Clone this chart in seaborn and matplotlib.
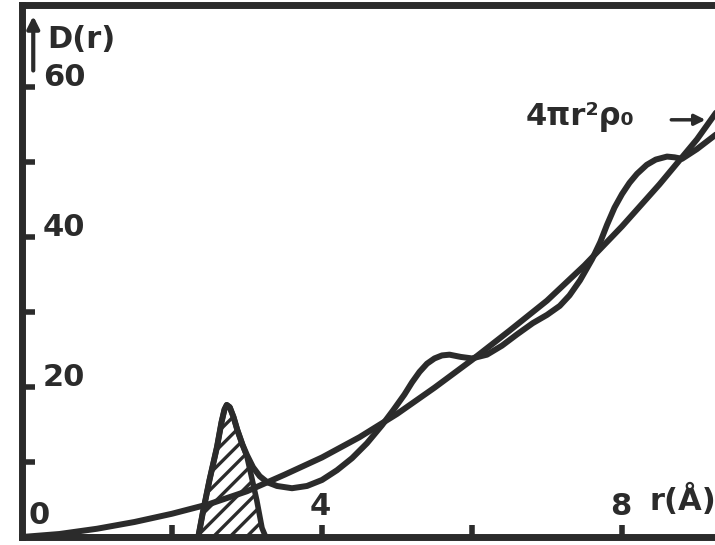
import matplotlib.pyplot as plt
import seaborn as sns

# free-atom density curve 4*pi*r^2*rho0
r_free = [0.0, 0.5, 1.0, 1.5, 2.0, 2.5, 3.0, 3.5, 4.0, 4.5, 5.0, 5.5, 6.0,
          6.5, 7.0, 7.5, 8.0, 8.5, 9.0, 9.3]
d_free = [0.0, 0.4, 1.1, 2.0, 3.1, 4.4, 6.1, 8.3, 10.6, 13.3, 16.4, 19.9, 23.6,
          27.5, 31.5, 36.2, 41.4, 47.0, 53.0, 57.2]

# radial distribution D(r)
r_rdf = [0.0, 2.35, 2.41, 2.5, 2.6, 2.66, 2.7, 2.73, 2.77, 2.82, 2.87, 2.94,
         3.0, 3.08, 3.17, 3.27, 3.4, 3.6, 3.8, 4.0, 4.2, 4.4, 4.6, 4.8, 4.95,
         5.1, 5.2, 5.3, 5.4, 5.5, 5.6, 5.7, 5.85, 6.0, 6.2, 6.4, 6.6, 6.81,
         7.0, 7.17, 7.3, 7.44, 7.6, 7.71, 7.8, 7.9, 8.0, 8.1, 8.2, 8.33, 8.45,
         8.6, 8.7, 8.8, 9.0, 9.3]
d_rdf = [0.0, 0.0, 3.2, 7.6, 12.0, 15.3, 17.0, 17.6, 17.3, 16.0, 14.3, 12.3,
         10.9, 9.3, 8.1, 7.3, 6.8, 6.5, 6.8, 7.6, 8.9, 10.5, 12.5, 14.9, 16.9,
         19.0, 20.6, 22.0, 23.1, 23.8, 24.2, 24.3, 24.0, 23.8, 24.3, 25.5,
         27.0, 28.5, 29.6, 30.8, 32.2, 34.2, 37.0, 39.3, 41.6, 43.9, 45.7,
         47.2, 48.4, 49.6, 50.3, 50.7, 50.6, 50.4, 51.7, 54.0]

# first-shell peak (hatched)
r_peak = [2.35, 2.41, 2.5, 2.6, 2.66, 2.7, 2.73, 2.77, 2.82, 2.87, 2.94, 3.0,
          3.07, 3.13, 3.2, 3.25]
d_peak = [0.0, 3.2, 7.6, 12.0, 15.3, 17.0, 17.6, 17.3, 16.0, 14.3, 12.3, 10.7,
          7.6, 4.9, 1.2, 0.0]

y_ticks = [10, 20, 30, 40, 50, 60]
y_labels = ['20', '40', '60']
x_ticks = [2, 4, 6, 8]
x_labels = ['4', '8']

ink = '#2b2b2b'

sns.set_theme(style='white')
plt.rcParams['font.family'] = ['DejaVu Sans']
plt.rcParams['hatch.linewidth'] = 2.4
plt.rcParams['hatch.color'] = ink

fig = plt.figure(figsize=(7.15, 5.45), dpi=100)
ax = fig.add_axes([22 / 715, 8 / 545, 693 / 715, 532 / 545])

# hatched peak
ax.fill_between(r_peak, d_peak, 0, facecolor='none', edgecolor=ink,
                hatch='//', linewidth=0)
line_kw = dict(color=ink, estimator=None, sort=False,
               solid_joinstyle='round', solid_capstyle='round')
sns.lineplot(x=r_peak, y=d_peak, ax=ax, lw=4.0, **line_kw)
sns.lineplot(x=r_free, y=d_free, ax=ax, lw=4.3, **line_kw)
sns.lineplot(x=r_rdf, y=d_rdf, ax=ax, lw=4.3, **line_kw)

ax.set_xlim(0, 9.24)
ax.set_ylim(0, 70.9)

for side in ['left', 'bottom', 'top']:
    ax.spines[side].set_color(ink)
    ax.spines[side].set_linewidth(5)
ax.spines['right'].set_visible(False)

ax.set_yticks(y_ticks)
ax.set_xticks(x_ticks)
ax.tick_params(direction='in', length=9, width=4, color=ink,
               labelleft=False, labelbottom=False, left=True, bottom=True)

# tick labels written inside the frame like the hand lettering
fs = 22
txt = dict(fontsize=fs, color=ink, fontweight='bold')
for val, lab in zip([20, 40, 60], y_labels):
    ax.text(0.28, val + 1.2, lab, ha='left', va='center', **txt)
ax.text(0.08, 2.9, '0', ha='left', va='center', **txt)
for val, lab in zip([4, 8], x_labels):
    ax.text(val - 0.02, 4.0, lab, ha='center', va='center', **txt)

# axis names with arrows
ax.text(0.33, 66.3, 'D(r)', ha='left', va='center', **txt)
ax.annotate('', xy=(0.15, 69.8), xytext=(0.15, 61.8),
            arrowprops=dict(arrowstyle='-|>', color=ink, lw=3, mutation_scale=18))
ax.text(8.37, 4.9, 'r(Å)', ha='left', va='center', **txt)
ax.annotate('', xy=(9.3, 1.5), xytext=(8.47, 1.5),
            arrowprops=dict(arrowstyle='-|>', color=ink, lw=2.5, mutation_scale=18))

ax.text(6.72, 56.0, '4πr²ρ₀', ha='left', va='center', **txt)
ax.annotate('', xy=(9.15, 55.6), xytext=(8.62, 55.6),
            arrowprops=dict(arrowstyle='-|>', color=ink, lw=2.5, mutation_scale=16))

ax.set_xlabel('')
ax.set_ylabel('')

fig.savefig('out.png', dpi=100)
